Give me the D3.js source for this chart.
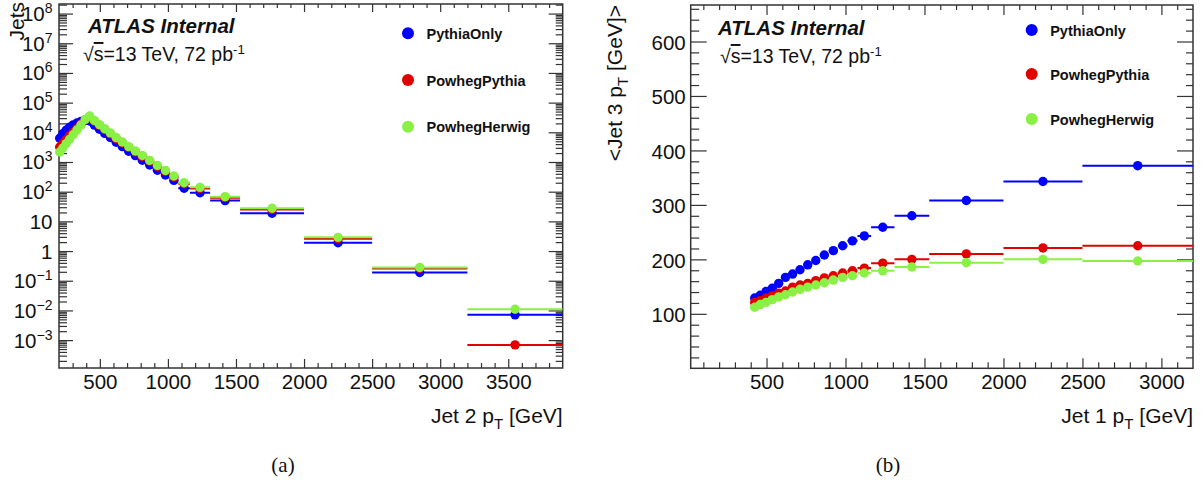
<!DOCTYPE html>
<html>
<head>
<meta charset="utf-8">
<script src="https://cdn.jsdelivr.net/npm/d3@7"></script>
<style>
body { margin: 0; background: #fff; }
svg text { font-family: "Liberation Sans", Arial, sans-serif; fill: #111; }
</style>
</head>
<body>
<svg id="chart" width="1203" height="484"></svg>
<script>
var series = ["PythiaOnly", "PowhegPythia", "PowhegHerwig"];
var colors = ["#0000ff", "#e00000", "#8af044"];

// (a) number of jets vs jet 2 pT, bin edges in GeV
var binsA = [194,216,240,264,290,318,346,376,408,442,478,516,556,598,642,688,736,786,838,894,952,1012,1076,1162,1310,1530,2000,2500,3200,3900];
var jetsPythiaOnly   = [6300,8900,11700,14800,17800,20600,23000,25000,24000,17500,12700,9200,6700,4650,3300,2300,1640,1150,790,530,365,240,130,92,50,18.8,1.9,0.19,0.0071];
var jetsPowhegPythia = [3200,4200,5600,7600,10000,13500,18600,26300,33000,23500,17000,12300,8900,6200,4400,3100,2200,1550,1060,710,490,315,185,128,63,25,2.6,0.26,0.00069];
var jetsPowhegHerwig = [2180,2940,4140,5760,8290,11900,17700,27000,35500,25000,18200,13200,9570,6650,4700,3300,2340,1650,1130,760,520,338,200,140,68,27.6,2.9,0.28,0.011];

// (b) mean jet 3 pT vs jet 1 pT
var binsB = [408,442,478,516,556,598,642,688,736,786,838,894,952,1012,1076,1162,1310,1530,2000,2500,3200];
var j3PythiaOnly   = [129,134,141,147,156,167,173,181,190,198,208,216,225,234,243,259,280,308,343,372];
var j3PowhegPythia = [121,124,129,133,138,142,149,153,156,161,166,170,175,179,184,193,200,210,221,225];
var j3PowhegHerwig = [112,117,121,126,131,135,140,145,149,153,157,162,167,170,175,179,186,194,200,197];

// tick values
var xTicksA = [500,1000,1500,2000,2500,3000,3500];
var yTicksA = [1e-3,1e-2,1e-1,1,10,1e2,1e3,1e4,1e5,1e6,1e7,1e8];
var xTicksB = [500,1000,1500,2000,2500,3000];
var yTicksB = [100,200,300,400,500,600];

var svg = d3.select("#chart");
var axisCol = "#333";

function styleAxis(sel, fs) {
  sel.select(".domain").remove();
  sel.attr("font-size", fs).attr("font-family", null);
  sel.selectAll(".tick line").attr("stroke", axisCol).attr("stroke-width", 1.2);
  sel.selectAll(".tick text").attr("fill", "#111");
}

function panel(cfg) {
  var w = cfg.x1 - cfg.x0, h = cfg.y1 - cfg.y0;
  var g = svg.append("g").attr("transform", "translate(" + cfg.x0 + "," + cfg.y0 + ")");
  var x = d3.scaleLinear().domain(cfg.xDomain).range([0, w]);
  var y = cfg.y.range([h, 0]);

  g.append("clipPath").attr("id", "clip-" + cfg.id)
    .append("rect").attr("width", w).attr("height", h);

  var xMinor = d3.range(100, cfg.xDomain[1], 100)
    .filter(function(v){ return v > cfg.xDomain[0] && cfg.xTicks.indexOf(v) < 0; });

  // bottom
  var gb = g.append("g").attr("transform", "translate(0," + h + ")")
    .call(d3.axisBottom(x).tickValues(cfg.xTicks).tickSize(-cfg.tk.bMaj).tickPadding(6)
      .tickFormat(d3.format("d")));
  styleAxis(gb, 20.5);
  g.append("g").attr("transform", "translate(0," + h + ")")
    .call(d3.axisBottom(x).tickValues(xMinor).tickSize(-cfg.tk.bMin).tickFormat(""))
    .call(styleAxis, 10);
  // top
  g.append("g").call(d3.axisTop(x).tickValues(cfg.xTicks).tickSize(-cfg.tk.tMaj).tickFormat(""))
    .call(styleAxis, 10);
  g.append("g").call(d3.axisTop(x).tickValues(xMinor).tickSize(-cfg.tk.tMin).tickFormat(""))
    .call(styleAxis, 10);

  // left
  var gl = g.append("g")
    .call(d3.axisLeft(y).tickValues(cfg.yTicks).tickSize(-cfg.tk.lMaj).tickPadding(cfg.yPad)
      .tickFormat(cfg.log ? function(){ return ""; } : d3.format("d")));
  styleAxis(gl, 20.5);
  gl.selectAll(".tick text").attr("dy", null).attr("y", cfg.yDy);
  if (cfg.log) {
    gl.selectAll(".tick text").each(function(d) {
      var n = Math.round(Math.log10(d)), t = d3.select(this);
      if (n === 0) t.text("1");
      else if (n === 1) t.text("10");
      else {
        t.append("tspan").text("10");
        t.append("tspan").attr("dy", -8).attr("font-size", 14)
          .text(n < 0 ? "\u2212" + (-n) : String(n));
      }
    });
  }
  g.append("g").call(d3.axisLeft(y).tickValues(cfg.yMinor).tickSize(-cfg.tk.lMin).tickFormat(""))
    .call(styleAxis, 10);
  // right
  g.append("g").attr("transform", "translate(" + w + ",0)")
    .call(d3.axisRight(y).tickValues(cfg.yTicks).tickSize(-cfg.tk.rMaj).tickFormat(""))
    .call(styleAxis, 10);
  g.append("g").attr("transform", "translate(" + w + ",0)")
    .call(d3.axisRight(y).tickValues(cfg.yMinor).tickSize(-cfg.tk.rMin).tickFormat(""))
    .call(styleAxis, 10);

  // frame
  g.append("rect").attr("width", w).attr("height", h)
    .attr("fill", "none").attr("stroke", axisCol).attr("stroke-width", 1.5);

  // data: one group per series, green drawn last
  cfg.data.forEach(function(vals, i) {
    var pts = vals.map(function(v, j) {
      return { lo: cfg.bins[j], hi: cfg.bins[j + 1], c: (cfg.bins[j] + cfg.bins[j + 1]) / 2, v: v };
    });
    var s = g.append("g").attr("class", "series s" + i);
    s.append("g").attr("clip-path", "url(#clip-" + cfg.id + ")")
      .selectAll("line").data(pts).enter().append("line")
      .attr("x1", function(d){ return x(d.lo); })
      .attr("x2", function(d){ return x(d.hi); })
      .attr("y1", function(d){ return y(d.v); })
      .attr("y2", function(d){ return y(d.v); })
      .attr("stroke", colors[i]).attr("stroke-width", 2);
    s.selectAll("circle").data(pts).enter().append("circle")
      .attr("cx", function(d){ return x(d.c); })
      .attr("cy", function(d){ return y(d.v); })
      .attr("r", 4.7)
      .attr("fill", colors[i]);
  });

  // legend
  var lg = svg.append("g");
  series.forEach(function(name, i) {
    var ly = cfg.leg.y[i];
    lg.append("circle").attr("cx", cfg.leg.x).attr("cy", ly).attr("r", 6).attr("fill", colors[i]);
    lg.append("text").attr("x", cfg.leg.x + 18.5).attr("y", ly + 5.5)
      .attr("font-size", 14.5).attr("font-weight", "bold").text(name);
  });

  // ATLAS label
  svg.append("text").attr("x", cfg.atlas[0]).attr("y", cfg.atlas[1])
    .attr("font-size", 20.5).attr("font-weight", "bold").attr("font-style", "italic")
    .text("ATLAS Internal");
  var lumi = svg.append("text").attr("x", cfg.lumi[0]).attr("y", cfg.lumi[1]).attr("font-size", 19.5);
  lumi.append("tspan").text("\u221A");
  lumi.append("tspan").style("text-decoration", "overline").text("s");
  lumi.append("tspan").text("=13 TeV, 72 pb");
  lumi.append("tspan").attr("dy", -7).attr("font-size", 13).text("-1");

  // axis titles
  var xt = svg.append("text").attr("x", cfg.x1).attr("y", 423)
    .attr("text-anchor", "end").attr("font-size", 21);
  xt.append("tspan").text(cfg.xTitle);
  xt.append("tspan").attr("dy", 6).attr("font-size", 15).text("T");
  xt.append("tspan").attr("dy", -6).text(" [GeV]");

  var yt = svg.append("text")
    .attr("transform", "translate(" + cfg.yTitle.x + "," + cfg.yTitle.y + ") rotate(-90)")
    .attr("text-anchor", "end").attr("font-size", 21);
  cfg.yTitle.parts(yt);

  svg.append("text").attr("x", cfg.caption[0]).attr("y", cfg.caption[1])
    .attr("text-anchor", "middle").attr("font-size", 21)
    .style("font-family", "'Liberation Serif', 'DejaVu Serif', serif")
    .text(cfg.caption[2]);
}

var logMinor = [];
d3.range(-4, 9).forEach(function(n) {
  d3.range(2, 10).forEach(function(k) {
    var v = k * Math.pow(10, n);
    if (v > 1.15e-4 && v < 2.1e8) logMinor.push(v);
  });
});

panel({
  id: "a", x0: 59, x1: 562.7, y0: 4, y1: 368,
  xDomain: [200, 3900],
  y: d3.scaleLog().domain([1.15e-4, 2.1e8]),
  log: true, yPad: 6.5, yDy: 7,
  xTicks: xTicksA, yTicks: yTicksA, yMinor: logMinor,
  tk: { bMaj: 9, bMin: 5, tMaj: 8, tMin: 4, lMaj: 14, lMin: 8, rMaj: 14, rMin: 7 },
  bins: binsA,
  data: [jetsPythiaOnly, jetsPowhegPythia, jetsPowhegHerwig],
  leg: { x: 408, y: [33.3, 80, 126.7] },
  atlas: [88, 33], lumi: [83, 61],
  xTitle: "Jet 2 p",
  yTitle: { x: 24, y: 2, parts: function(t){ t.text("Jets"); } },
  caption: [283, 472, "(a)"]
});

panel({
  id: "b", x0: 690.7, x1: 1193, y0: 5, y1: 368.3,
  xDomain: [20, 3200],
  y: d3.scaleLinear().domain([0, 667]),
  log: false, yPad: 5, yDy: 8,
  xTicks: xTicksB, yTicks: yTicksB,
  yMinor: d3.range(20, 667, 20).filter(function(v){ return v % 100 !== 0; }),
  tk: { bMaj: 10, bMin: 6, tMaj: 10, tMin: 5, lMaj: 16, lMin: 8.5, rMaj: 16, rMin: 7 },
  bins: binsB,
  data: [j3PythiaOnly, j3PowhegPythia, j3PowhegHerwig],
  leg: { x: 1031.7, y: [30, 74, 119] },
  atlas: [718, 35], lumi: [720, 63],
  xTitle: "Jet 1 p",
  yTitle: { x: 622, y: 5, parts: function(t){
    t.append("tspan").text("<Jet 3 p");
    t.append("tspan").attr("dy", 6).attr("font-size", 15).text("T");
    t.append("tspan").attr("dy", -6).text(" [GeV]>");
  } },
  caption: [888, 472, "(b)"]
});
</script>
</body>
</html>
